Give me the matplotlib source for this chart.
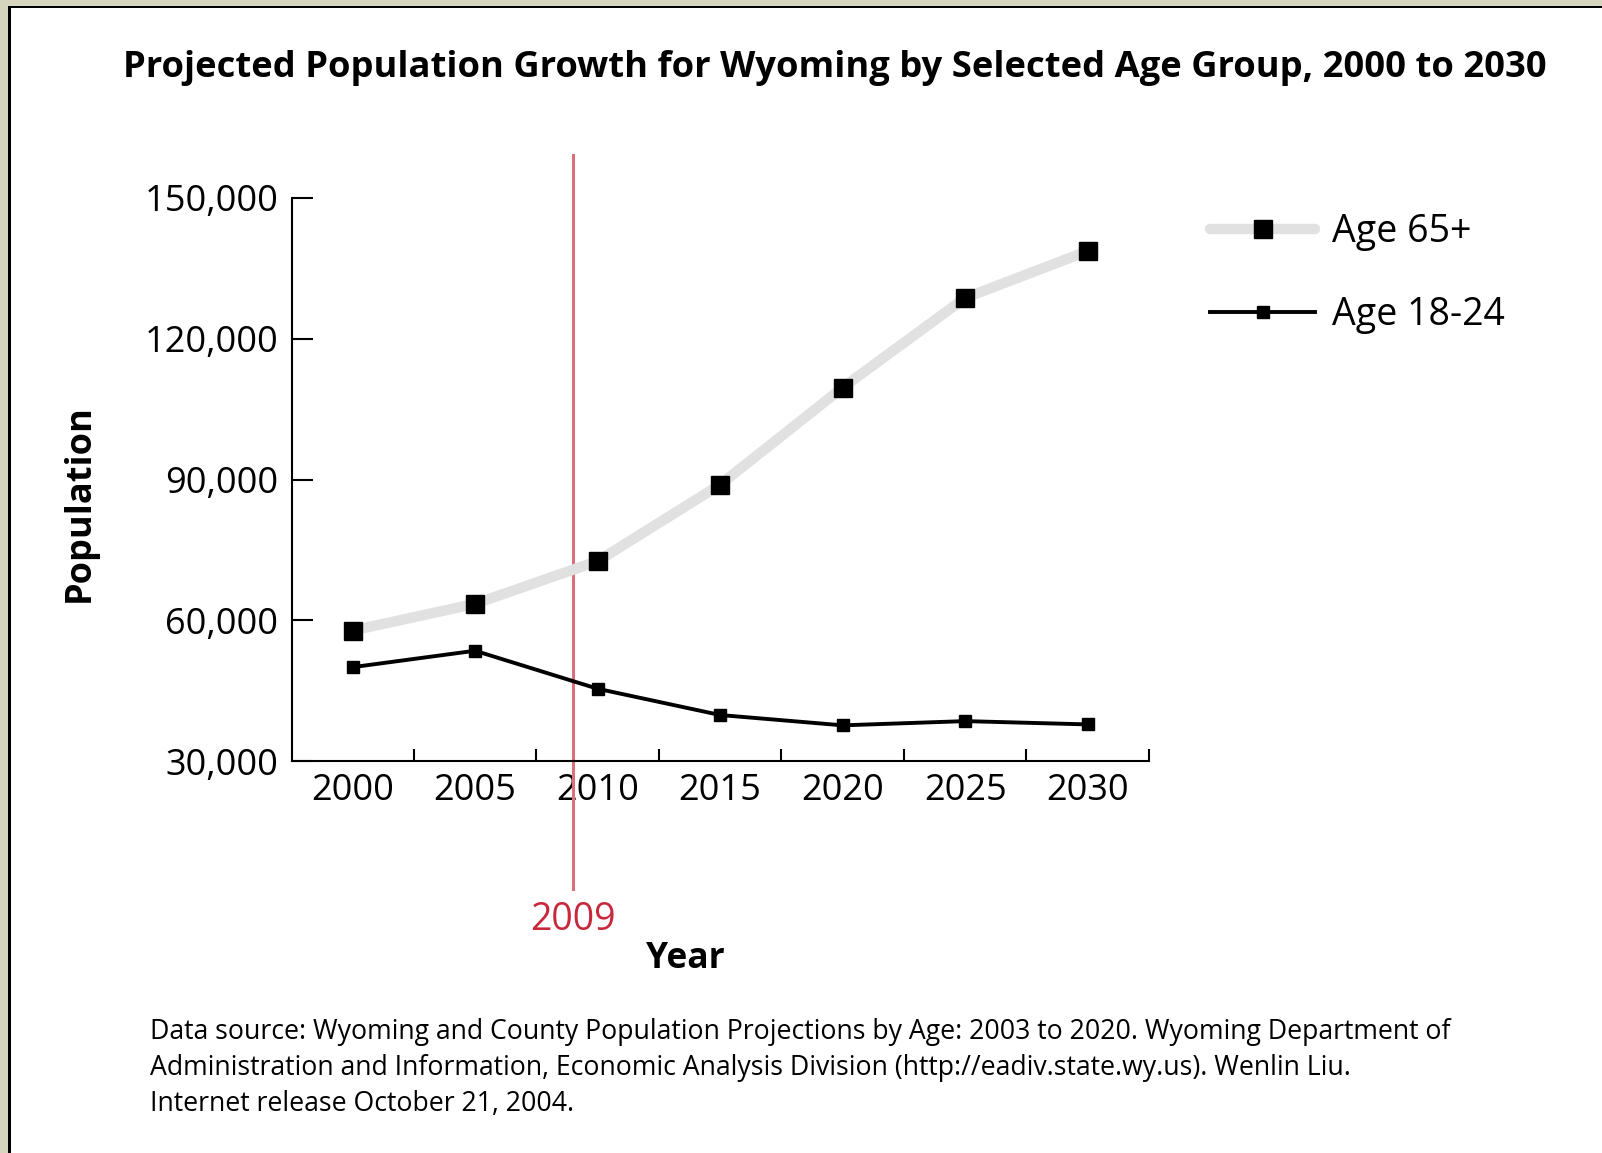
import matplotlib
matplotlib.use("Agg")
import matplotlib.pyplot as plt
from matplotlib.patches import Rectangle

years = [2000, 2005, 2010, 2015, 2020, 2025, 2030]
age65 = [57800, 63500, 72600, 88900, 109600, 128700, 138700]
age18_24 = [50000, 53500, 45400, 39800, 37600, 38500, 37800]
ytick_vals = [30000, 60000, 90000, 120000, 150000]
ytick_labels = ["30,000", "60,000", "90,000", "120,000", "150,000"]
marker_year = 2009

FONT = "Open Sans"
plt.rcParams['font.family'] = [FONT, 'DejaVu Sans']

W, H = 1602, 1153
fig = plt.figure(figsize=(W / 100, H / 100), dpi=100)
fig.patch.set_facecolor("#d6d5bd")
# white panel with black border (top and left)
fig.patches.append(Rectangle((8 / W, 0), 1, 1 - 6 / H, transform=fig.transFigure,
                             facecolor="black", edgecolor="none", zorder=-20))
fig.patches.append(Rectangle((11 / W, 0), 1, 1 - 8 / H, transform=fig.transFigure,
                             facecolor="white", edgecolor="none", zorder=-19))

ax = fig.add_axes([292 / W, 1 - 761 / H, (1149 - 292) / W, (761 - 198) / H])
ax.set_zorder(1)
ax.set_facecolor("none")

l1, = ax.plot(years, age65, color="#e1e1e1", lw=7.5, marker="s", ms=13.5,
              mfc="black", mec="black", solid_capstyle="round",
              solid_joinstyle="round", label="Age 65+", zorder=3)
l2, = ax.plot(years, age18_24, color="black", lw=2.8, marker="s", ms=8.5,
              mfc="black", mec="black", solid_joinstyle="round",
              label="Age 18-24", zorder=4)

ax.axvline(marker_year, ymin=-0.227, ymax=1.076, color="#dc6f7c", lw=2.2,
           clip_on=False, zorder=2)
ax.text(marker_year, -0.283, str(marker_year), transform=ax.get_xaxis_transform(),
        ha="center", va="center", color="#c8283c", fontsize=27)

ax.set_xlim(1997.53, 2032.5)
ax.set_ylim(30000, 150000)

ax.set_xticks(years)
ax.set_xticklabels([str(y) for y in years], fontsize=26)
ax.set_xticks([y + 2.5 for y in years], minor=True)
ax.tick_params(axis="x", which="major", length=0, pad=8.5)
ax.tick_params(axis="x", which="minor", direction="in", length=9, width=1.5)
ax.set_yticks(ytick_vals)
ax.set_yticklabels(ytick_labels, fontsize=26)
ax.tick_params(axis="y", direction="in", length=15, width=1.5, pad=10)

for s in ["top", "right"]:
    ax.spines[s].set_visible(False)
for s in ["left", "bottom"]:
    ax.spines[s].set_linewidth(1.5)

fig.text(80 / W, 1 - 503 / H, "Population", rotation=90, ha="center", va="center",
         fontsize=26, fontweight="bold")
fig.text(685 / W, 1 - 959 / H, "Year", ha="center", va="center",
         fontsize=25.5, fontweight="bold")
fig.text(835 / W, 1 - 68 / H,
         "Projected Population Growth for Wyoming by Selected Age Group, 2000 to 2030",
         ha="center", va="center", fontsize=26.2, fontweight="bold")

src = ["Data source: Wyoming and County Population Projections by Age: 2003 to 2020. Wyoming Department of",
       "Administration and Information, Economic Analysis Division (http://eadiv.state.wy.us). Wenlin Liu.",
       "Internet release October 21, 2004."]
for i, line in enumerate(src):
    fig.text(150 / W, 1 - (1032 + 36 * i) / H, line, ha="left", va="center", fontsize=19.2)

leg = ax.legend(handles=[l1, l2], loc="upper left",
                bbox_to_anchor=(1210 / W, 1 - 213 / H), bbox_transform=fig.transFigure,
                frameon=False, fontsize=27, handlelength=2.8, handletextpad=0.45,
                labelspacing=1.2, borderpad=0, borderaxespad=0)

fig.savefig("out.png", dpi=100, facecolor=fig.get_facecolor())
